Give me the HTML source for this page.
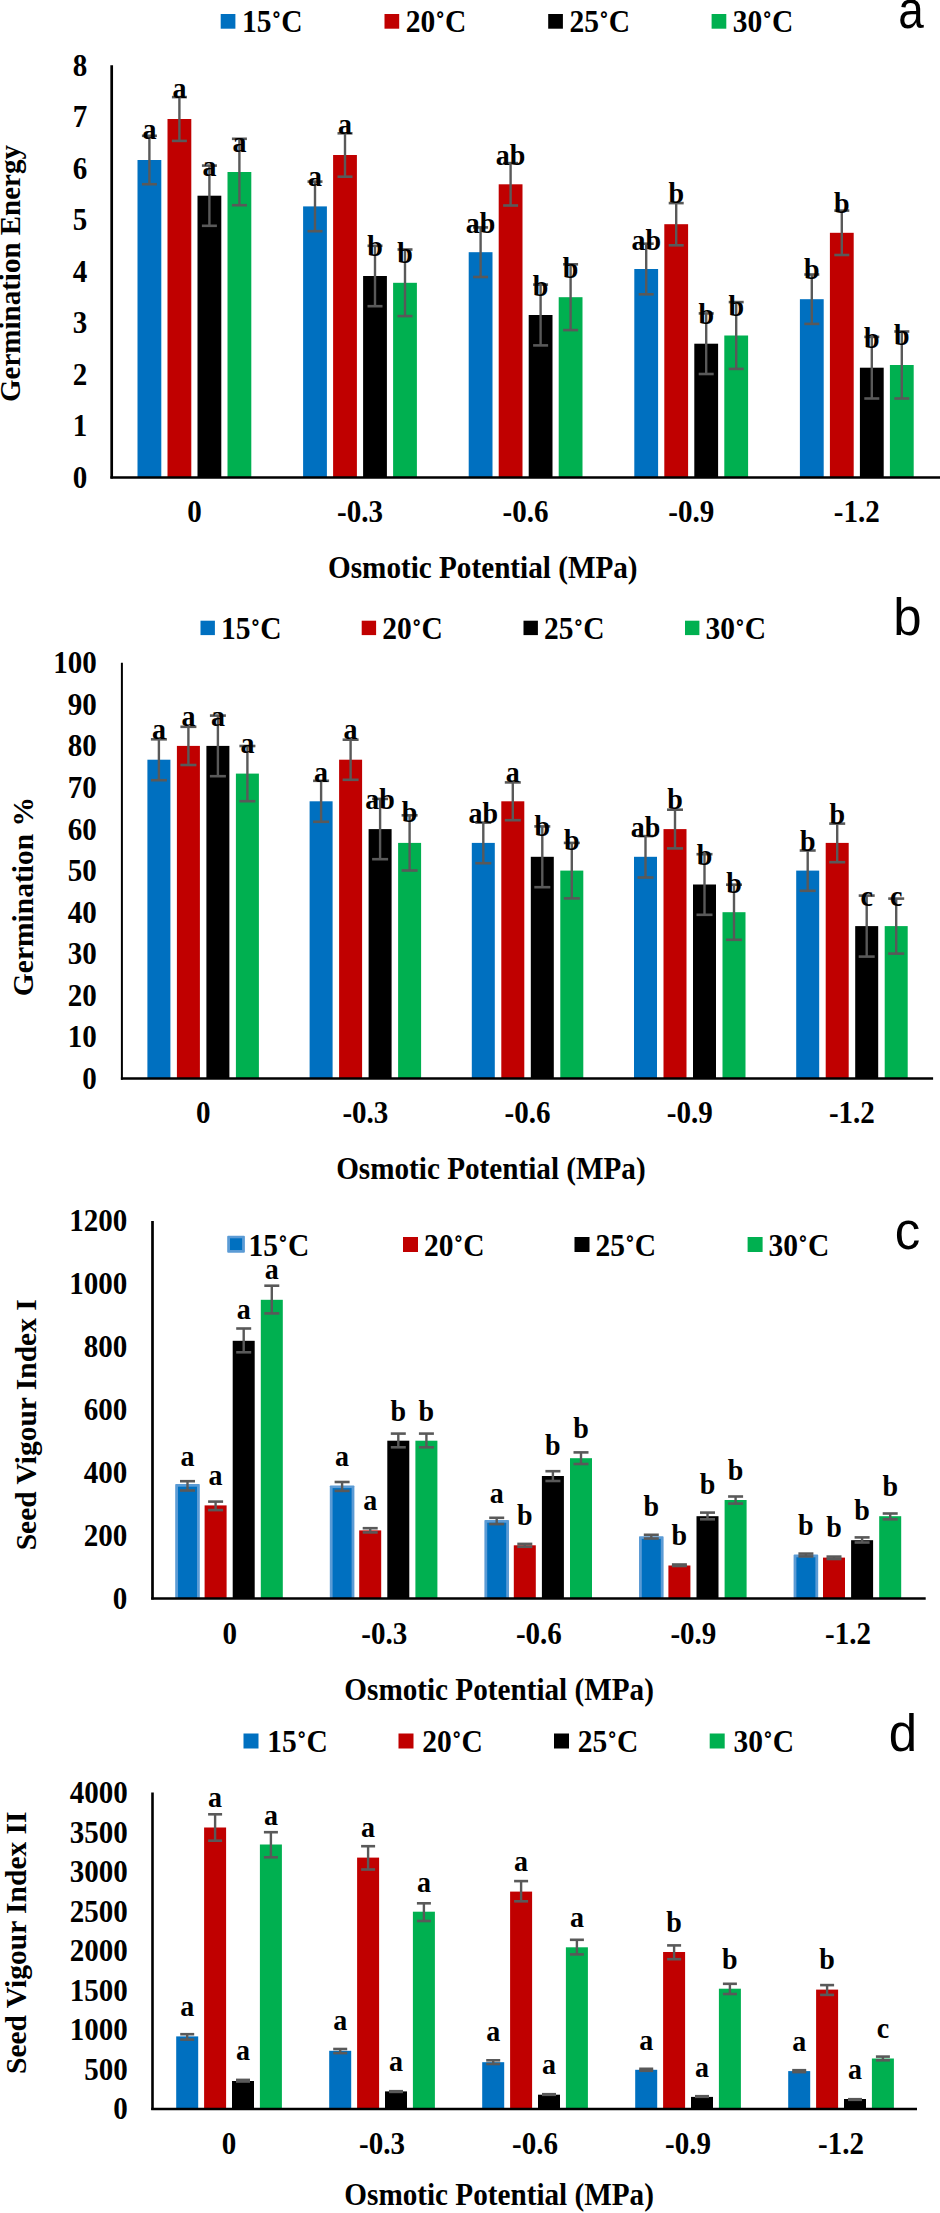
<!DOCTYPE html>
<html><head><meta charset="utf-8"><title>Chart</title>
<style>
html,body{margin:0;padding:0;background:#fff;}
body{width:940px;height:2213px;overflow:hidden;}
svg{display:block;}
text{font-family:"Liberation Serif",serif;font-weight:bold;fill:#000;}
text.pl{font-family:"Liberation Sans",sans-serif;font-weight:normal;}
</style></head><body>
<svg width="940" height="2213" viewBox="0 0 940 2213">
<rect width="940" height="2213" fill="#fff"/>
<!-- panel a -->
<rect x="137.5" y="160.0" width="23.8" height="317.4" fill="#0070C0"/>
<rect x="167.5" y="119.0" width="23.8" height="358.4" fill="#C00000"/>
<rect x="197.5" y="195.7" width="23.8" height="281.7" fill="#000000"/>
<rect x="227.5" y="172.0" width="23.8" height="305.4" fill="#00B050"/>
<rect x="303.1" y="206.4" width="23.8" height="271.0" fill="#0070C0"/>
<rect x="333.1" y="155.0" width="23.8" height="322.4" fill="#C00000"/>
<rect x="363.1" y="276.0" width="23.8" height="201.4" fill="#000000"/>
<rect x="393.1" y="282.8" width="23.8" height="194.6" fill="#00B050"/>
<rect x="468.7" y="252.2" width="23.8" height="225.2" fill="#0070C0"/>
<rect x="498.7" y="184.3" width="23.8" height="293.1" fill="#C00000"/>
<rect x="528.7" y="315.0" width="23.8" height="162.4" fill="#000000"/>
<rect x="558.7" y="297.2" width="23.8" height="180.2" fill="#00B050"/>
<rect x="634.3" y="269.0" width="23.8" height="208.4" fill="#0070C0"/>
<rect x="664.3" y="224.2" width="23.8" height="253.2" fill="#C00000"/>
<rect x="694.3" y="343.7" width="23.8" height="133.7" fill="#000000"/>
<rect x="724.3" y="335.5" width="23.8" height="141.9" fill="#00B050"/>
<rect x="799.9" y="299.2" width="23.8" height="178.2" fill="#0070C0"/>
<rect x="829.9" y="232.8" width="23.8" height="244.6" fill="#C00000"/>
<rect x="859.9" y="367.7" width="23.8" height="109.7" fill="#000000"/>
<rect x="889.9" y="365.0" width="23.8" height="112.4" fill="#00B050"/>
<line x1="149.4" y1="135.8" x2="149.4" y2="184.2" stroke="#595959" stroke-width="2.4"/>
<line x1="141.9" y1="135.8" x2="156.9" y2="135.8" stroke="#595959" stroke-width="2.6"/>
<line x1="141.9" y1="184.2" x2="156.9" y2="184.2" stroke="#595959" stroke-width="2.6"/>
<line x1="179.4" y1="97.1" x2="179.4" y2="140.9" stroke="#595959" stroke-width="2.4"/>
<line x1="171.9" y1="97.1" x2="186.9" y2="97.1" stroke="#595959" stroke-width="2.6"/>
<line x1="171.9" y1="140.9" x2="186.9" y2="140.9" stroke="#595959" stroke-width="2.6"/>
<line x1="209.4" y1="165.6" x2="209.4" y2="225.8" stroke="#595959" stroke-width="2.4"/>
<line x1="201.9" y1="165.6" x2="216.9" y2="165.6" stroke="#595959" stroke-width="2.6"/>
<line x1="201.9" y1="225.8" x2="216.9" y2="225.8" stroke="#595959" stroke-width="2.6"/>
<line x1="239.4" y1="138.8" x2="239.4" y2="205.2" stroke="#595959" stroke-width="2.4"/>
<line x1="231.9" y1="138.8" x2="246.9" y2="138.8" stroke="#595959" stroke-width="2.6"/>
<line x1="231.9" y1="205.2" x2="246.9" y2="205.2" stroke="#595959" stroke-width="2.6"/>
<line x1="315.0" y1="181.6" x2="315.0" y2="231.2" stroke="#595959" stroke-width="2.4"/>
<line x1="307.5" y1="181.6" x2="322.5" y2="181.6" stroke="#595959" stroke-width="2.6"/>
<line x1="307.5" y1="231.2" x2="322.5" y2="231.2" stroke="#595959" stroke-width="2.6"/>
<line x1="345.0" y1="133.3" x2="345.0" y2="176.7" stroke="#595959" stroke-width="2.4"/>
<line x1="337.5" y1="133.3" x2="352.5" y2="133.3" stroke="#595959" stroke-width="2.6"/>
<line x1="337.5" y1="176.7" x2="352.5" y2="176.7" stroke="#595959" stroke-width="2.6"/>
<line x1="375.0" y1="245.8" x2="375.0" y2="306.2" stroke="#595959" stroke-width="2.4"/>
<line x1="367.5" y1="245.8" x2="382.5" y2="245.8" stroke="#595959" stroke-width="2.6"/>
<line x1="367.5" y1="306.2" x2="382.5" y2="306.2" stroke="#595959" stroke-width="2.6"/>
<line x1="405.0" y1="249.5" x2="405.0" y2="316.1" stroke="#595959" stroke-width="2.4"/>
<line x1="397.5" y1="249.5" x2="412.5" y2="249.5" stroke="#595959" stroke-width="2.6"/>
<line x1="397.5" y1="316.1" x2="412.5" y2="316.1" stroke="#595959" stroke-width="2.6"/>
<line x1="480.6" y1="227.4" x2="480.6" y2="277.0" stroke="#595959" stroke-width="2.4"/>
<line x1="473.1" y1="227.4" x2="488.1" y2="227.4" stroke="#595959" stroke-width="2.6"/>
<line x1="473.1" y1="277.0" x2="488.1" y2="277.0" stroke="#595959" stroke-width="2.6"/>
<line x1="510.6" y1="163.1" x2="510.6" y2="205.5" stroke="#595959" stroke-width="2.4"/>
<line x1="503.1" y1="163.1" x2="518.1" y2="163.1" stroke="#595959" stroke-width="2.6"/>
<line x1="503.1" y1="205.5" x2="518.1" y2="205.5" stroke="#595959" stroke-width="2.6"/>
<line x1="540.6" y1="284.6" x2="540.6" y2="345.4" stroke="#595959" stroke-width="2.4"/>
<line x1="533.1" y1="284.6" x2="548.1" y2="284.6" stroke="#595959" stroke-width="2.6"/>
<line x1="533.1" y1="345.4" x2="548.1" y2="345.4" stroke="#595959" stroke-width="2.6"/>
<line x1="570.6" y1="264.3" x2="570.6" y2="330.1" stroke="#595959" stroke-width="2.4"/>
<line x1="563.1" y1="264.3" x2="578.1" y2="264.3" stroke="#595959" stroke-width="2.6"/>
<line x1="563.1" y1="330.1" x2="578.1" y2="330.1" stroke="#595959" stroke-width="2.6"/>
<line x1="646.2" y1="243.7" x2="646.2" y2="294.3" stroke="#595959" stroke-width="2.4"/>
<line x1="638.7" y1="243.7" x2="653.7" y2="243.7" stroke="#595959" stroke-width="2.6"/>
<line x1="638.7" y1="294.3" x2="653.7" y2="294.3" stroke="#595959" stroke-width="2.6"/>
<line x1="676.2" y1="203.1" x2="676.2" y2="245.3" stroke="#595959" stroke-width="2.4"/>
<line x1="668.7" y1="203.1" x2="683.7" y2="203.1" stroke="#595959" stroke-width="2.6"/>
<line x1="668.7" y1="245.3" x2="683.7" y2="245.3" stroke="#595959" stroke-width="2.6"/>
<line x1="706.2" y1="313.4" x2="706.2" y2="374.0" stroke="#595959" stroke-width="2.4"/>
<line x1="698.7" y1="313.4" x2="713.7" y2="313.4" stroke="#595959" stroke-width="2.6"/>
<line x1="698.7" y1="374.0" x2="713.7" y2="374.0" stroke="#595959" stroke-width="2.6"/>
<line x1="736.2" y1="302.1" x2="736.2" y2="368.9" stroke="#595959" stroke-width="2.4"/>
<line x1="728.7" y1="302.1" x2="743.7" y2="302.1" stroke="#595959" stroke-width="2.6"/>
<line x1="728.7" y1="368.9" x2="743.7" y2="368.9" stroke="#595959" stroke-width="2.6"/>
<line x1="811.8" y1="274.5" x2="811.8" y2="323.9" stroke="#595959" stroke-width="2.4"/>
<line x1="804.3" y1="274.5" x2="819.3" y2="274.5" stroke="#595959" stroke-width="2.6"/>
<line x1="804.3" y1="323.9" x2="819.3" y2="323.9" stroke="#595959" stroke-width="2.6"/>
<line x1="841.8" y1="210.6" x2="841.8" y2="255.0" stroke="#595959" stroke-width="2.4"/>
<line x1="834.3" y1="210.6" x2="849.3" y2="210.6" stroke="#595959" stroke-width="2.6"/>
<line x1="834.3" y1="255.0" x2="849.3" y2="255.0" stroke="#595959" stroke-width="2.6"/>
<line x1="871.8" y1="336.9" x2="871.8" y2="398.5" stroke="#595959" stroke-width="2.4"/>
<line x1="864.3" y1="336.9" x2="879.3" y2="336.9" stroke="#595959" stroke-width="2.6"/>
<line x1="864.3" y1="398.5" x2="879.3" y2="398.5" stroke="#595959" stroke-width="2.6"/>
<line x1="901.8" y1="331.5" x2="901.8" y2="398.5" stroke="#595959" stroke-width="2.4"/>
<line x1="894.3" y1="331.5" x2="909.3" y2="331.5" stroke="#595959" stroke-width="2.6"/>
<line x1="894.3" y1="398.5" x2="909.3" y2="398.5" stroke="#595959" stroke-width="2.6"/>
<text transform="translate(149.4,139.4) scale(0.95,1.03)" text-anchor="middle" font-size="29.5">a</text>
<text transform="translate(179.4,98.3) scale(0.95,1.03)" text-anchor="middle" font-size="29.5">a</text>
<text transform="translate(209.4,176.0) scale(0.95,1.03)" text-anchor="middle" font-size="29.5">a</text>
<text transform="translate(239.4,151.9) scale(0.95,1.03)" text-anchor="middle" font-size="29.5">a</text>
<text transform="translate(315.0,186.3) scale(0.95,1.03)" text-anchor="middle" font-size="29.5">a</text>
<text transform="translate(345.0,134.0) scale(0.95,1.03)" text-anchor="middle" font-size="29.5">a</text>
<text transform="translate(375.0,255.5) scale(0.95,1.03)" text-anchor="middle" font-size="29.5">b</text>
<text transform="translate(405.0,263.1) scale(0.95,1.03)" text-anchor="middle" font-size="29.5">b</text>
<text transform="translate(480.6,232.8) scale(0.95,1.03)" text-anchor="middle" font-size="29.5">ab</text>
<text transform="translate(510.6,164.9) scale(0.95,1.03)" text-anchor="middle" font-size="29.5">ab</text>
<text transform="translate(540.6,296.2) scale(0.95,1.03)" text-anchor="middle" font-size="29.5">b</text>
<text transform="translate(570.6,277.8) scale(0.95,1.03)" text-anchor="middle" font-size="29.5">b</text>
<text transform="translate(646.2,250.2) scale(0.95,1.03)" text-anchor="middle" font-size="29.5">ab</text>
<text transform="translate(676.2,203.2) scale(0.95,1.03)" text-anchor="middle" font-size="29.5">b</text>
<text transform="translate(706.2,324.3) scale(0.95,1.03)" text-anchor="middle" font-size="29.5">b</text>
<text transform="translate(736.2,316.1) scale(0.95,1.03)" text-anchor="middle" font-size="29.5">b</text>
<text transform="translate(811.8,278.8) scale(0.95,1.03)" text-anchor="middle" font-size="29.5">b</text>
<text transform="translate(841.8,213.4) scale(0.95,1.03)" text-anchor="middle" font-size="29.5">b</text>
<text transform="translate(871.8,347.7) scale(0.95,1.03)" text-anchor="middle" font-size="29.5">b</text>
<text transform="translate(901.8,345.2) scale(0.95,1.03)" text-anchor="middle" font-size="29.5">b</text>
<line x1="111.7" y1="65.2" x2="111.7" y2="478.6" stroke="#000" stroke-width="2.7"/>
<line x1="110.4" y1="477.4" x2="940.0" y2="477.4" stroke="#000" stroke-width="2.5"/>
<text transform="translate(87.3,487.8) scale(0.985,1.07)" text-anchor="end" font-size="29.5">0</text>
<text transform="translate(87.3,436.3) scale(0.985,1.07)" text-anchor="end" font-size="29.5">1</text>
<text transform="translate(87.3,384.7) scale(0.985,1.07)" text-anchor="end" font-size="29.5">2</text>
<text transform="translate(87.3,333.2) scale(0.985,1.07)" text-anchor="end" font-size="29.5">3</text>
<text transform="translate(87.3,281.7) scale(0.985,1.07)" text-anchor="end" font-size="29.5">4</text>
<text transform="translate(87.3,230.2) scale(0.985,1.07)" text-anchor="end" font-size="29.5">5</text>
<text transform="translate(87.3,178.7) scale(0.985,1.07)" text-anchor="end" font-size="29.5">6</text>
<text transform="translate(87.3,127.1) scale(0.985,1.07)" text-anchor="end" font-size="29.5">7</text>
<text transform="translate(87.3,75.6) scale(0.985,1.07)" text-anchor="end" font-size="29.5">8</text>
<text transform="translate(194.4,521.5) scale(0.985,1.07)" text-anchor="middle" font-size="29.5">0</text>
<text transform="translate(360.0,521.5) scale(0.985,1.07)" text-anchor="middle" font-size="29.5">-0.3</text>
<text transform="translate(525.6,521.5) scale(0.985,1.07)" text-anchor="middle" font-size="29.5">-0.6</text>
<text transform="translate(691.2,521.5) scale(0.985,1.07)" text-anchor="middle" font-size="29.5">-0.9</text>
<text transform="translate(856.8,521.5) scale(0.985,1.07)" text-anchor="middle" font-size="29.5">-1.2</text>
<text transform="translate(482.8,578.3) scale(1,1.07)" text-anchor="middle" font-size="29.2">Osmotic Potential (MPa)</text>
<text transform="translate(20.4,273.5) rotate(-90)" x="0" y="0" text-anchor="middle" font-size="29">Germination Energy</text>
<rect x="220.7" y="14.0" width="14.7" height="14.7" fill="#0070C0"/>
<text transform="translate(241.9,31.9) scale(1,1.04)" text-anchor="start" font-size="29.5">15<tspan dy="2.3">˚</tspan><tspan dy="-2.3">C</tspan></text>
<rect x="384.5" y="14.0" width="14.7" height="14.7" fill="#C00000"/>
<text transform="translate(405.7,31.9) scale(1,1.04)" text-anchor="start" font-size="29.5">20<tspan dy="2.3">˚</tspan><tspan dy="-2.3">C</tspan></text>
<rect x="548.2" y="14.0" width="14.7" height="14.7" fill="#000000"/>
<text transform="translate(569.4,31.9) scale(1,1.04)" text-anchor="start" font-size="29.5">25<tspan dy="2.3">˚</tspan><tspan dy="-2.3">C</tspan></text>
<rect x="711.6" y="14.0" width="14.7" height="14.7" fill="#00B050"/>
<text transform="translate(732.8,31.9) scale(1,1.04)" text-anchor="start" font-size="29.5">30<tspan dy="2.3">˚</tspan><tspan dy="-2.3">C</tspan></text>
<text transform="translate(910.9,27.5) scale(0.9,1)" x="0" y="0" text-anchor="middle" class="pl" font-size="51">a</text>
<!-- panel b -->
<rect x="147.4" y="759.7" width="23.0" height="318.9" fill="#0070C0"/>
<rect x="176.9" y="745.9" width="23.0" height="332.7" fill="#C00000"/>
<rect x="206.4" y="745.9" width="23.0" height="332.7" fill="#000000"/>
<rect x="235.9" y="773.6" width="23.0" height="305.0" fill="#00B050"/>
<rect x="309.6" y="801.3" width="23.0" height="277.3" fill="#0070C0"/>
<rect x="339.1" y="759.7" width="23.0" height="318.9" fill="#C00000"/>
<rect x="368.6" y="829.1" width="23.0" height="249.5" fill="#000000"/>
<rect x="398.1" y="842.9" width="23.0" height="235.7" fill="#00B050"/>
<rect x="471.8" y="842.9" width="23.0" height="235.7" fill="#0070C0"/>
<rect x="501.3" y="801.3" width="23.0" height="277.3" fill="#C00000"/>
<rect x="530.8" y="856.8" width="23.0" height="221.8" fill="#000000"/>
<rect x="560.3" y="870.6" width="23.0" height="207.9" fill="#00B050"/>
<rect x="634.0" y="856.8" width="23.0" height="221.8" fill="#0070C0"/>
<rect x="663.5" y="829.1" width="23.0" height="249.5" fill="#C00000"/>
<rect x="693.0" y="884.5" width="23.0" height="194.1" fill="#000000"/>
<rect x="722.5" y="912.2" width="23.0" height="166.4" fill="#00B050"/>
<rect x="796.2" y="870.6" width="23.0" height="207.9" fill="#0070C0"/>
<rect x="825.7" y="842.9" width="23.0" height="235.7" fill="#C00000"/>
<rect x="855.2" y="926.1" width="23.0" height="152.5" fill="#000000"/>
<rect x="884.7" y="926.1" width="23.0" height="152.5" fill="#00B050"/>
<line x1="158.9" y1="739.3" x2="158.9" y2="780.2" stroke="#595959" stroke-width="2.4"/>
<line x1="150.9" y1="739.3" x2="166.9" y2="739.3" stroke="#595959" stroke-width="2.6"/>
<line x1="150.9" y1="780.2" x2="166.9" y2="780.2" stroke="#595959" stroke-width="2.6"/>
<line x1="188.4" y1="726.8" x2="188.4" y2="765.0" stroke="#595959" stroke-width="2.4"/>
<line x1="180.4" y1="726.8" x2="196.4" y2="726.8" stroke="#595959" stroke-width="2.6"/>
<line x1="180.4" y1="765.0" x2="196.4" y2="765.0" stroke="#595959" stroke-width="2.6"/>
<line x1="217.9" y1="715.6" x2="217.9" y2="776.2" stroke="#595959" stroke-width="2.4"/>
<line x1="209.9" y1="715.6" x2="225.9" y2="715.6" stroke="#595959" stroke-width="2.6"/>
<line x1="209.9" y1="776.2" x2="225.9" y2="776.2" stroke="#595959" stroke-width="2.6"/>
<line x1="247.4" y1="746.0" x2="247.4" y2="801.2" stroke="#595959" stroke-width="2.4"/>
<line x1="239.4" y1="746.0" x2="255.4" y2="746.0" stroke="#595959" stroke-width="2.6"/>
<line x1="239.4" y1="801.2" x2="255.4" y2="801.2" stroke="#595959" stroke-width="2.6"/>
<line x1="321.1" y1="780.8" x2="321.1" y2="821.8" stroke="#595959" stroke-width="2.4"/>
<line x1="313.1" y1="780.8" x2="329.1" y2="780.8" stroke="#595959" stroke-width="2.6"/>
<line x1="313.1" y1="821.8" x2="329.1" y2="821.8" stroke="#595959" stroke-width="2.6"/>
<line x1="350.6" y1="739.7" x2="350.6" y2="779.8" stroke="#595959" stroke-width="2.4"/>
<line x1="342.6" y1="739.7" x2="358.6" y2="739.7" stroke="#595959" stroke-width="2.6"/>
<line x1="342.6" y1="779.8" x2="358.6" y2="779.8" stroke="#595959" stroke-width="2.6"/>
<line x1="380.1" y1="798.9" x2="380.1" y2="859.2" stroke="#595959" stroke-width="2.4"/>
<line x1="372.1" y1="798.9" x2="388.1" y2="798.9" stroke="#595959" stroke-width="2.6"/>
<line x1="372.1" y1="859.2" x2="388.1" y2="859.2" stroke="#595959" stroke-width="2.6"/>
<line x1="409.6" y1="815.3" x2="409.6" y2="870.5" stroke="#595959" stroke-width="2.4"/>
<line x1="401.6" y1="815.3" x2="417.6" y2="815.3" stroke="#595959" stroke-width="2.6"/>
<line x1="401.6" y1="870.5" x2="417.6" y2="870.5" stroke="#595959" stroke-width="2.6"/>
<line x1="483.3" y1="822.6" x2="483.3" y2="863.2" stroke="#595959" stroke-width="2.4"/>
<line x1="475.3" y1="822.6" x2="491.3" y2="822.6" stroke="#595959" stroke-width="2.6"/>
<line x1="475.3" y1="863.2" x2="491.3" y2="863.2" stroke="#595959" stroke-width="2.6"/>
<line x1="512.8" y1="782.4" x2="512.8" y2="820.2" stroke="#595959" stroke-width="2.4"/>
<line x1="504.8" y1="782.4" x2="520.8" y2="782.4" stroke="#595959" stroke-width="2.6"/>
<line x1="504.8" y1="820.2" x2="520.8" y2="820.2" stroke="#595959" stroke-width="2.6"/>
<line x1="542.3" y1="826.4" x2="542.3" y2="887.2" stroke="#595959" stroke-width="2.4"/>
<line x1="534.3" y1="826.4" x2="550.3" y2="826.4" stroke="#595959" stroke-width="2.6"/>
<line x1="534.3" y1="887.2" x2="550.3" y2="887.2" stroke="#595959" stroke-width="2.6"/>
<line x1="571.8" y1="842.9" x2="571.8" y2="898.4" stroke="#595959" stroke-width="2.4"/>
<line x1="563.8" y1="842.9" x2="579.8" y2="842.9" stroke="#595959" stroke-width="2.6"/>
<line x1="563.8" y1="898.4" x2="579.8" y2="898.4" stroke="#595959" stroke-width="2.6"/>
<line x1="645.5" y1="836.1" x2="645.5" y2="877.5" stroke="#595959" stroke-width="2.4"/>
<line x1="637.5" y1="836.1" x2="653.5" y2="836.1" stroke="#595959" stroke-width="2.6"/>
<line x1="637.5" y1="877.5" x2="653.5" y2="877.5" stroke="#595959" stroke-width="2.6"/>
<line x1="675.0" y1="809.7" x2="675.0" y2="848.4" stroke="#595959" stroke-width="2.4"/>
<line x1="667.0" y1="809.7" x2="683.0" y2="809.7" stroke="#595959" stroke-width="2.6"/>
<line x1="667.0" y1="848.4" x2="683.0" y2="848.4" stroke="#595959" stroke-width="2.6"/>
<line x1="704.5" y1="854.2" x2="704.5" y2="914.8" stroke="#595959" stroke-width="2.4"/>
<line x1="696.5" y1="854.2" x2="712.5" y2="854.2" stroke="#595959" stroke-width="2.6"/>
<line x1="696.5" y1="914.8" x2="712.5" y2="914.8" stroke="#595959" stroke-width="2.6"/>
<line x1="734.0" y1="884.7" x2="734.0" y2="939.8" stroke="#595959" stroke-width="2.4"/>
<line x1="726.0" y1="884.7" x2="742.0" y2="884.7" stroke="#595959" stroke-width="2.6"/>
<line x1="726.0" y1="939.8" x2="742.0" y2="939.8" stroke="#595959" stroke-width="2.6"/>
<line x1="807.7" y1="850.5" x2="807.7" y2="890.8" stroke="#595959" stroke-width="2.4"/>
<line x1="799.7" y1="850.5" x2="815.7" y2="850.5" stroke="#595959" stroke-width="2.6"/>
<line x1="799.7" y1="890.8" x2="815.7" y2="890.8" stroke="#595959" stroke-width="2.6"/>
<line x1="837.2" y1="823.6" x2="837.2" y2="862.2" stroke="#595959" stroke-width="2.4"/>
<line x1="829.2" y1="823.6" x2="845.2" y2="823.6" stroke="#595959" stroke-width="2.6"/>
<line x1="829.2" y1="862.2" x2="845.2" y2="862.2" stroke="#595959" stroke-width="2.6"/>
<line x1="866.7" y1="895.6" x2="866.7" y2="956.6" stroke="#595959" stroke-width="2.4"/>
<line x1="858.7" y1="895.6" x2="874.7" y2="895.6" stroke="#595959" stroke-width="2.6"/>
<line x1="858.7" y1="956.6" x2="874.7" y2="956.6" stroke="#595959" stroke-width="2.6"/>
<line x1="896.2" y1="898.6" x2="896.2" y2="953.6" stroke="#595959" stroke-width="2.4"/>
<line x1="888.2" y1="898.6" x2="904.2" y2="898.6" stroke="#595959" stroke-width="2.6"/>
<line x1="888.2" y1="953.6" x2="904.2" y2="953.6" stroke="#595959" stroke-width="2.6"/>
<text transform="translate(158.9,739.4) scale(0.95,1.03)" text-anchor="middle" font-size="29.5">a</text>
<text transform="translate(188.4,726.0) scale(0.95,1.03)" text-anchor="middle" font-size="29.5">a</text>
<text transform="translate(217.9,726.0) scale(0.95,1.03)" text-anchor="middle" font-size="29.5">a</text>
<text transform="translate(247.4,752.8) scale(0.95,1.03)" text-anchor="middle" font-size="29.5">a</text>
<text transform="translate(321.1,781.8) scale(0.95,1.03)" text-anchor="middle" font-size="29.5">a</text>
<text transform="translate(350.6,739.4) scale(0.95,1.03)" text-anchor="middle" font-size="29.5">a</text>
<text transform="translate(380.1,808.6) scale(0.95,1.03)" text-anchor="middle" font-size="29.5">ab</text>
<text transform="translate(409.6,822.0) scale(0.95,1.03)" text-anchor="middle" font-size="29.5">b</text>
<text transform="translate(483.3,822.6) scale(0.95,1.03)" text-anchor="middle" font-size="29.5">ab</text>
<text transform="translate(512.8,781.8) scale(0.95,1.03)" text-anchor="middle" font-size="29.5">a</text>
<text transform="translate(542.3,836.4) scale(0.95,1.03)" text-anchor="middle" font-size="29.5">b</text>
<text transform="translate(571.8,850.2) scale(0.95,1.03)" text-anchor="middle" font-size="29.5">b</text>
<text transform="translate(645.5,837.0) scale(0.95,1.03)" text-anchor="middle" font-size="29.5">ab</text>
<text transform="translate(675.0,808.8) scale(0.95,1.03)" text-anchor="middle" font-size="29.5">b</text>
<text transform="translate(704.5,864.5) scale(0.95,1.03)" text-anchor="middle" font-size="29.5">b</text>
<text transform="translate(734.0,892.6) scale(0.95,1.03)" text-anchor="middle" font-size="29.5">b</text>
<text transform="translate(807.7,850.7) scale(0.95,1.03)" text-anchor="middle" font-size="29.5">b</text>
<text transform="translate(837.2,823.6) scale(0.95,1.03)" text-anchor="middle" font-size="29.5">b</text>
<text transform="translate(866.7,906.4) scale(0.95,1.03)" text-anchor="middle" font-size="29.5">c</text>
<text transform="translate(896.2,906.4) scale(0.95,1.03)" text-anchor="middle" font-size="29.5">c</text>
<line x1="121.9" y1="662.7" x2="121.9" y2="1079.8" stroke="#000" stroke-width="2.0"/>
<line x1="120.9" y1="1078.6" x2="933.1" y2="1078.6" stroke="#000" stroke-width="2.5"/>
<text transform="translate(96.8,1089.0) scale(0.985,1.07)" text-anchor="end" font-size="29.5">0</text>
<text transform="translate(96.8,1047.4) scale(0.985,1.07)" text-anchor="end" font-size="29.5">10</text>
<text transform="translate(96.8,1005.8) scale(0.985,1.07)" text-anchor="end" font-size="29.5">20</text>
<text transform="translate(96.8,964.2) scale(0.985,1.07)" text-anchor="end" font-size="29.5">30</text>
<text transform="translate(96.8,922.6) scale(0.985,1.07)" text-anchor="end" font-size="29.5">40</text>
<text transform="translate(96.8,881.0) scale(0.985,1.07)" text-anchor="end" font-size="29.5">50</text>
<text transform="translate(96.8,839.5) scale(0.985,1.07)" text-anchor="end" font-size="29.5">60</text>
<text transform="translate(96.8,797.9) scale(0.985,1.07)" text-anchor="end" font-size="29.5">70</text>
<text transform="translate(96.8,756.3) scale(0.985,1.07)" text-anchor="end" font-size="29.5">80</text>
<text transform="translate(96.8,714.7) scale(0.985,1.07)" text-anchor="end" font-size="29.5">90</text>
<text transform="translate(96.8,673.1) scale(0.985,1.07)" text-anchor="end" font-size="29.5">100</text>
<text transform="translate(203.2,1122.5) scale(0.985,1.07)" text-anchor="middle" font-size="29.5">0</text>
<text transform="translate(365.4,1122.5) scale(0.985,1.07)" text-anchor="middle" font-size="29.5">-0.3</text>
<text transform="translate(527.5,1122.5) scale(0.985,1.07)" text-anchor="middle" font-size="29.5">-0.6</text>
<text transform="translate(689.8,1122.5) scale(0.985,1.07)" text-anchor="middle" font-size="29.5">-0.9</text>
<text transform="translate(851.9,1122.5) scale(0.985,1.07)" text-anchor="middle" font-size="29.5">-1.2</text>
<text transform="translate(490.9,1178.6) scale(1,1.07)" text-anchor="middle" font-size="29.2">Osmotic Potential (MPa)</text>
<text transform="translate(32.9,896.6) rotate(-90)" x="0" y="0" text-anchor="middle" font-size="29.5">Germination %</text>
<rect x="200.5" y="620.7" width="14.4" height="14.4" fill="#0070C0"/>
<text transform="translate(221.0,639.3) scale(1,1.04)" text-anchor="start" font-size="29.5">15<tspan dy="2.3">˚</tspan><tspan dy="-2.3">C</tspan></text>
<rect x="361.7" y="620.7" width="14.4" height="14.4" fill="#C00000"/>
<text transform="translate(382.2,639.3) scale(1,1.04)" text-anchor="start" font-size="29.5">20<tspan dy="2.3">˚</tspan><tspan dy="-2.3">C</tspan></text>
<rect x="523.5" y="620.7" width="14.4" height="14.4" fill="#000000"/>
<text transform="translate(544.0,639.3) scale(1,1.04)" text-anchor="start" font-size="29.5">25<tspan dy="2.3">˚</tspan><tspan dy="-2.3">C</tspan></text>
<rect x="685.0" y="620.7" width="14.4" height="14.4" fill="#00B050"/>
<text transform="translate(705.5,639.3) scale(1,1.04)" text-anchor="start" font-size="29.5">30<tspan dy="2.3">˚</tspan><tspan dy="-2.3">C</tspan></text>
<text transform="translate(907.4,635.0) scale(1,1)" x="0" y="0" text-anchor="middle" class="pl" font-size="51">b</text>
<!-- panel c -->
<rect x="175.2" y="1484.0" width="24.6" height="114.4" fill="#5B9BD5" rx="0.8"/>
<rect x="178.0" y="1486.7" width="19.0" height="111.7" fill="#0070C0"/>
<rect x="204.6" y="1505.4" width="22.0" height="93.0" fill="#C00000"/>
<rect x="232.7" y="1340.8" width="22.0" height="257.6" fill="#000000"/>
<rect x="260.8" y="1299.8" width="22.0" height="298.6" fill="#00B050"/>
<rect x="329.8" y="1485.4" width="24.6" height="113.0" fill="#5B9BD5" rx="0.8"/>
<rect x="332.6" y="1488.1" width="19.0" height="110.3" fill="#0070C0"/>
<rect x="359.2" y="1530.4" width="22.0" height="68.0" fill="#C00000"/>
<rect x="387.3" y="1440.7" width="22.0" height="157.7" fill="#000000"/>
<rect x="415.4" y="1440.7" width="22.0" height="157.7" fill="#00B050"/>
<rect x="484.4" y="1520.0" width="24.6" height="78.4" fill="#5B9BD5" rx="0.8"/>
<rect x="487.2" y="1522.7" width="19.0" height="75.7" fill="#0070C0"/>
<rect x="513.8" y="1545.3" width="22.0" height="53.1" fill="#C00000"/>
<rect x="541.9" y="1476.0" width="22.0" height="122.4" fill="#000000"/>
<rect x="570.0" y="1458.2" width="22.0" height="140.2" fill="#00B050"/>
<rect x="639.0" y="1536.2" width="24.6" height="62.2" fill="#5B9BD5" rx="0.8"/>
<rect x="641.8" y="1538.9" width="19.0" height="59.5" fill="#0070C0"/>
<rect x="668.4" y="1565.5" width="22.0" height="32.9" fill="#C00000"/>
<rect x="696.5" y="1516.2" width="22.0" height="82.2" fill="#000000"/>
<rect x="724.6" y="1500.0" width="22.0" height="98.4" fill="#00B050"/>
<rect x="793.6" y="1554.6" width="24.6" height="43.8" fill="#5B9BD5" rx="0.8"/>
<rect x="796.4" y="1557.3" width="19.0" height="41.1" fill="#0070C0"/>
<rect x="823.0" y="1557.6" width="22.0" height="40.8" fill="#C00000"/>
<rect x="851.1" y="1540.2" width="22.0" height="58.2" fill="#000000"/>
<rect x="879.2" y="1516.2" width="22.0" height="82.2" fill="#00B050"/>
<line x1="187.5" y1="1481.2" x2="187.5" y2="1490.5" stroke="#595959" stroke-width="2.4"/>
<line x1="180.0" y1="1481.2" x2="195.0" y2="1481.2" stroke="#595959" stroke-width="2.6"/>
<line x1="180.0" y1="1490.5" x2="195.0" y2="1490.5" stroke="#595959" stroke-width="2.6"/>
<line x1="215.6" y1="1501.6" x2="215.6" y2="1510.1" stroke="#595959" stroke-width="2.4"/>
<line x1="208.1" y1="1501.6" x2="223.1" y2="1501.6" stroke="#595959" stroke-width="2.6"/>
<line x1="208.1" y1="1510.1" x2="223.1" y2="1510.1" stroke="#595959" stroke-width="2.6"/>
<line x1="243.7" y1="1328.5" x2="243.7" y2="1352.3" stroke="#595959" stroke-width="2.4"/>
<line x1="236.2" y1="1328.5" x2="251.2" y2="1328.5" stroke="#595959" stroke-width="2.6"/>
<line x1="236.2" y1="1352.3" x2="251.2" y2="1352.3" stroke="#595959" stroke-width="2.6"/>
<line x1="271.8" y1="1285.7" x2="271.8" y2="1313.4" stroke="#595959" stroke-width="2.4"/>
<line x1="264.3" y1="1285.7" x2="279.3" y2="1285.7" stroke="#595959" stroke-width="2.6"/>
<line x1="264.3" y1="1313.4" x2="279.3" y2="1313.4" stroke="#595959" stroke-width="2.6"/>
<line x1="342.1" y1="1482.0" x2="342.1" y2="1490.9" stroke="#595959" stroke-width="2.4"/>
<line x1="334.6" y1="1482.0" x2="349.6" y2="1482.0" stroke="#595959" stroke-width="2.6"/>
<line x1="334.6" y1="1490.9" x2="349.6" y2="1490.9" stroke="#595959" stroke-width="2.6"/>
<line x1="370.2" y1="1528.2" x2="370.2" y2="1532.4" stroke="#595959" stroke-width="2.4"/>
<line x1="362.7" y1="1528.2" x2="377.7" y2="1528.2" stroke="#595959" stroke-width="2.6"/>
<line x1="362.7" y1="1532.4" x2="377.7" y2="1532.4" stroke="#595959" stroke-width="2.6"/>
<line x1="398.3" y1="1433.6" x2="398.3" y2="1447.3" stroke="#595959" stroke-width="2.4"/>
<line x1="390.8" y1="1433.6" x2="405.8" y2="1433.6" stroke="#595959" stroke-width="2.6"/>
<line x1="390.8" y1="1447.3" x2="405.8" y2="1447.3" stroke="#595959" stroke-width="2.6"/>
<line x1="426.4" y1="1433.6" x2="426.4" y2="1447.3" stroke="#595959" stroke-width="2.4"/>
<line x1="418.9" y1="1433.6" x2="433.9" y2="1433.6" stroke="#595959" stroke-width="2.6"/>
<line x1="418.9" y1="1447.3" x2="433.9" y2="1447.3" stroke="#595959" stroke-width="2.6"/>
<line x1="496.7" y1="1517.8" x2="496.7" y2="1524.1" stroke="#595959" stroke-width="2.4"/>
<line x1="489.2" y1="1517.8" x2="504.2" y2="1517.8" stroke="#595959" stroke-width="2.6"/>
<line x1="489.2" y1="1524.1" x2="504.2" y2="1524.1" stroke="#595959" stroke-width="2.6"/>
<line x1="524.8" y1="1543.9" x2="524.8" y2="1546.8" stroke="#595959" stroke-width="2.4"/>
<line x1="517.3" y1="1543.9" x2="532.3" y2="1543.9" stroke="#595959" stroke-width="2.6"/>
<line x1="517.3" y1="1546.8" x2="532.3" y2="1546.8" stroke="#595959" stroke-width="2.6"/>
<line x1="552.9" y1="1471.2" x2="552.9" y2="1481.0" stroke="#595959" stroke-width="2.4"/>
<line x1="545.4" y1="1471.2" x2="560.4" y2="1471.2" stroke="#595959" stroke-width="2.6"/>
<line x1="545.4" y1="1481.0" x2="560.4" y2="1481.0" stroke="#595959" stroke-width="2.6"/>
<line x1="581.0" y1="1452.4" x2="581.0" y2="1464.0" stroke="#595959" stroke-width="2.4"/>
<line x1="573.5" y1="1452.4" x2="588.5" y2="1452.4" stroke="#595959" stroke-width="2.6"/>
<line x1="573.5" y1="1464.0" x2="588.5" y2="1464.0" stroke="#595959" stroke-width="2.6"/>
<line x1="651.3" y1="1534.8" x2="651.3" y2="1538.5" stroke="#595959" stroke-width="2.4"/>
<line x1="643.8" y1="1534.8" x2="658.8" y2="1534.8" stroke="#595959" stroke-width="2.6"/>
<line x1="643.8" y1="1538.5" x2="658.8" y2="1538.5" stroke="#595959" stroke-width="2.6"/>
<line x1="679.4" y1="1564.5" x2="679.4" y2="1566.0" stroke="#595959" stroke-width="2.4"/>
<line x1="671.9" y1="1564.5" x2="686.9" y2="1564.5" stroke="#595959" stroke-width="2.6"/>
<line x1="671.9" y1="1566.0" x2="686.9" y2="1566.0" stroke="#595959" stroke-width="2.6"/>
<line x1="707.5" y1="1512.6" x2="707.5" y2="1519.3" stroke="#595959" stroke-width="2.4"/>
<line x1="700.0" y1="1512.6" x2="715.0" y2="1512.6" stroke="#595959" stroke-width="2.6"/>
<line x1="700.0" y1="1519.3" x2="715.0" y2="1519.3" stroke="#595959" stroke-width="2.6"/>
<line x1="735.6" y1="1496.5" x2="735.6" y2="1503.6" stroke="#595959" stroke-width="2.4"/>
<line x1="728.1" y1="1496.5" x2="743.1" y2="1496.5" stroke="#595959" stroke-width="2.6"/>
<line x1="728.1" y1="1503.6" x2="743.1" y2="1503.6" stroke="#595959" stroke-width="2.6"/>
<line x1="805.9" y1="1553.6" x2="805.9" y2="1556.4" stroke="#595959" stroke-width="2.4"/>
<line x1="798.4" y1="1553.6" x2="813.4" y2="1553.6" stroke="#595959" stroke-width="2.6"/>
<line x1="798.4" y1="1556.4" x2="813.4" y2="1556.4" stroke="#595959" stroke-width="2.6"/>
<line x1="834.0" y1="1556.6" x2="834.0" y2="1559.0" stroke="#595959" stroke-width="2.4"/>
<line x1="826.5" y1="1556.6" x2="841.5" y2="1556.6" stroke="#595959" stroke-width="2.6"/>
<line x1="826.5" y1="1559.0" x2="841.5" y2="1559.0" stroke="#595959" stroke-width="2.6"/>
<line x1="862.1" y1="1537.4" x2="862.1" y2="1542.5" stroke="#595959" stroke-width="2.4"/>
<line x1="854.6" y1="1537.4" x2="869.6" y2="1537.4" stroke="#595959" stroke-width="2.6"/>
<line x1="854.6" y1="1542.5" x2="869.6" y2="1542.5" stroke="#595959" stroke-width="2.6"/>
<line x1="890.2" y1="1513.5" x2="890.2" y2="1519.3" stroke="#595959" stroke-width="2.4"/>
<line x1="882.7" y1="1513.5" x2="897.7" y2="1513.5" stroke="#595959" stroke-width="2.6"/>
<line x1="882.7" y1="1519.3" x2="897.7" y2="1519.3" stroke="#595959" stroke-width="2.6"/>
<text transform="translate(187.5,1465.5) scale(0.95,1.03)" text-anchor="middle" font-size="29.5">a</text>
<text transform="translate(215.6,1484.7) scale(0.95,1.03)" text-anchor="middle" font-size="29.5">a</text>
<text transform="translate(243.7,1319.4) scale(0.95,1.03)" text-anchor="middle" font-size="29.5">a</text>
<text transform="translate(271.8,1278.9) scale(0.95,1.03)" text-anchor="middle" font-size="29.5">a</text>
<text transform="translate(342.1,1465.5) scale(0.95,1.03)" text-anchor="middle" font-size="29.5">a</text>
<text transform="translate(370.2,1509.6) scale(0.95,1.03)" text-anchor="middle" font-size="29.5">a</text>
<text transform="translate(398.3,1420.6) scale(0.95,1.03)" text-anchor="middle" font-size="29.5">b</text>
<text transform="translate(426.4,1420.6) scale(0.95,1.03)" text-anchor="middle" font-size="29.5">b</text>
<text transform="translate(496.7,1502.6) scale(0.95,1.03)" text-anchor="middle" font-size="29.5">a</text>
<text transform="translate(524.8,1525.3) scale(0.95,1.03)" text-anchor="middle" font-size="29.5">b</text>
<text transform="translate(552.9,1455.0) scale(0.95,1.03)" text-anchor="middle" font-size="29.5">b</text>
<text transform="translate(581.0,1437.7) scale(0.95,1.03)" text-anchor="middle" font-size="29.5">b</text>
<text transform="translate(651.3,1516.2) scale(0.95,1.03)" text-anchor="middle" font-size="29.5">b</text>
<text transform="translate(679.4,1544.5) scale(0.95,1.03)" text-anchor="middle" font-size="29.5">b</text>
<text transform="translate(707.5,1494.4) scale(0.95,1.03)" text-anchor="middle" font-size="29.5">b</text>
<text transform="translate(735.6,1479.5) scale(0.95,1.03)" text-anchor="middle" font-size="29.5">b</text>
<text transform="translate(805.9,1534.5) scale(0.95,1.03)" text-anchor="middle" font-size="29.5">b</text>
<text transform="translate(834.0,1537.1) scale(0.95,1.03)" text-anchor="middle" font-size="29.5">b</text>
<text transform="translate(862.1,1519.7) scale(0.95,1.03)" text-anchor="middle" font-size="29.5">b</text>
<text transform="translate(890.2,1495.7) scale(0.95,1.03)" text-anchor="middle" font-size="29.5">b</text>
<line x1="152.5" y1="1221.0" x2="152.5" y2="1599.6" stroke="#000" stroke-width="2.7"/>
<line x1="151.2" y1="1598.4" x2="925.7" y2="1598.4" stroke="#000" stroke-width="2.5"/>
<text transform="translate(127.3,1608.8) scale(0.985,1.07)" text-anchor="end" font-size="29.5">0</text>
<text transform="translate(127.3,1545.9) scale(0.985,1.07)" text-anchor="end" font-size="29.5">200</text>
<text transform="translate(127.3,1483.0) scale(0.985,1.07)" text-anchor="end" font-size="29.5">400</text>
<text transform="translate(127.3,1420.1) scale(0.985,1.07)" text-anchor="end" font-size="29.5">600</text>
<text transform="translate(127.3,1357.2) scale(0.985,1.07)" text-anchor="end" font-size="29.5">800</text>
<text transform="translate(127.3,1294.3) scale(0.985,1.07)" text-anchor="end" font-size="29.5">1000</text>
<text transform="translate(127.3,1231.4) scale(0.985,1.07)" text-anchor="end" font-size="29.5">1200</text>
<text transform="translate(229.7,1643.5) scale(0.985,1.07)" text-anchor="middle" font-size="29.5">0</text>
<text transform="translate(384.2,1643.5) scale(0.985,1.07)" text-anchor="middle" font-size="29.5">-0.3</text>
<text transform="translate(538.9,1643.5) scale(0.985,1.07)" text-anchor="middle" font-size="29.5">-0.6</text>
<text transform="translate(693.4,1643.5) scale(0.985,1.07)" text-anchor="middle" font-size="29.5">-0.9</text>
<text transform="translate(848.0,1643.5) scale(0.985,1.07)" text-anchor="middle" font-size="29.5">-1.2</text>
<text transform="translate(499.1,1700.3) scale(1,1.07)" text-anchor="middle" font-size="29.2">Osmotic Potential (MPa)</text>
<text transform="translate(35.9,1424.8) rotate(-90)" x="0" y="0" text-anchor="middle" font-size="29.5">Seed Vigour Index I</text>
<rect x="227.2" y="1235.7" width="17.7" height="17.1" fill="#5B9BD5" rx="1"/>
<rect x="230.0" y="1238.3" width="12.1" height="11.7" fill="#0070C0"/>
<text transform="translate(248.6,1255.6) scale(1,1.04)" text-anchor="start" font-size="29.5">15<tspan dy="2.3">˚</tspan><tspan dy="-2.3">C</tspan></text>
<rect x="403.0" y="1237.0" width="15.0" height="15.0" fill="#C00000"/>
<text transform="translate(424.0,1255.6) scale(1,1.04)" text-anchor="start" font-size="29.5">20<tspan dy="2.3">˚</tspan><tspan dy="-2.3">C</tspan></text>
<rect x="574.5" y="1237.0" width="15.0" height="15.0" fill="#000000"/>
<text transform="translate(595.5,1255.6) scale(1,1.04)" text-anchor="start" font-size="29.5">25<tspan dy="2.3">˚</tspan><tspan dy="-2.3">C</tspan></text>
<rect x="747.6" y="1237.0" width="15.0" height="15.0" fill="#00B050"/>
<text transform="translate(768.6,1255.6) scale(1,1.04)" text-anchor="start" font-size="29.5">30<tspan dy="2.3">˚</tspan><tspan dy="-2.3">C</tspan></text>
<text transform="translate(907.4,1249.3) scale(1,1)" x="0" y="0" text-anchor="middle" class="pl" font-size="51">c</text>
<!-- panel d -->
<rect x="176.2" y="2036.4" width="22.0" height="72.5" fill="#0070C0"/>
<rect x="204.1" y="1827.5" width="22.0" height="281.4" fill="#C00000"/>
<rect x="232.0" y="2081.0" width="22.0" height="27.9" fill="#000000"/>
<rect x="259.9" y="1844.5" width="22.0" height="264.4" fill="#00B050"/>
<rect x="329.2" y="2050.8" width="22.0" height="58.1" fill="#0070C0"/>
<rect x="357.1" y="1857.6" width="22.0" height="251.3" fill="#C00000"/>
<rect x="385.0" y="2091.4" width="22.0" height="17.5" fill="#000000"/>
<rect x="412.9" y="1911.7" width="22.0" height="197.2" fill="#00B050"/>
<rect x="482.2" y="2062.2" width="22.0" height="46.7" fill="#0070C0"/>
<rect x="510.1" y="1891.6" width="22.0" height="217.3" fill="#C00000"/>
<rect x="538.0" y="2094.7" width="22.0" height="14.2" fill="#000000"/>
<rect x="565.9" y="1947.3" width="22.0" height="161.6" fill="#00B050"/>
<rect x="635.2" y="2069.8" width="22.0" height="39.1" fill="#0070C0"/>
<rect x="663.1" y="1952.0" width="22.0" height="156.9" fill="#C00000"/>
<rect x="691.0" y="2096.9" width="22.0" height="12.0" fill="#000000"/>
<rect x="718.9" y="1988.7" width="22.0" height="120.2" fill="#00B050"/>
<rect x="788.2" y="2071.1" width="22.0" height="37.8" fill="#0070C0"/>
<rect x="816.1" y="1989.6" width="22.0" height="119.3" fill="#C00000"/>
<rect x="844.0" y="2099.0" width="22.0" height="9.9" fill="#000000"/>
<rect x="871.9" y="2058.5" width="22.0" height="50.4" fill="#00B050"/>
<line x1="187.2" y1="2034.2" x2="187.2" y2="2039.6" stroke="#595959" stroke-width="2.4"/>
<line x1="180.2" y1="2034.2" x2="194.2" y2="2034.2" stroke="#595959" stroke-width="2.6"/>
<line x1="180.2" y1="2039.6" x2="194.2" y2="2039.6" stroke="#595959" stroke-width="2.6"/>
<line x1="215.1" y1="1814.3" x2="215.1" y2="1840.7" stroke="#595959" stroke-width="2.4"/>
<line x1="208.1" y1="1814.3" x2="222.1" y2="1814.3" stroke="#595959" stroke-width="2.6"/>
<line x1="208.1" y1="1840.7" x2="222.1" y2="1840.7" stroke="#595959" stroke-width="2.6"/>
<line x1="243.0" y1="2079.9" x2="243.0" y2="2081.5" stroke="#595959" stroke-width="2.4"/>
<line x1="236.0" y1="2079.9" x2="250.0" y2="2079.9" stroke="#595959" stroke-width="2.6"/>
<line x1="236.0" y1="2081.5" x2="250.0" y2="2081.5" stroke="#595959" stroke-width="2.6"/>
<line x1="270.9" y1="1832.2" x2="270.9" y2="1857.3" stroke="#595959" stroke-width="2.4"/>
<line x1="263.9" y1="1832.2" x2="277.9" y2="1832.2" stroke="#595959" stroke-width="2.6"/>
<line x1="263.9" y1="1857.3" x2="277.9" y2="1857.3" stroke="#595959" stroke-width="2.6"/>
<line x1="340.2" y1="2049.0" x2="340.2" y2="2053.1" stroke="#595959" stroke-width="2.4"/>
<line x1="333.2" y1="2049.0" x2="347.2" y2="2049.0" stroke="#595959" stroke-width="2.6"/>
<line x1="333.2" y1="2053.1" x2="347.2" y2="2053.1" stroke="#595959" stroke-width="2.6"/>
<line x1="368.1" y1="1846.2" x2="368.1" y2="1869.5" stroke="#595959" stroke-width="2.4"/>
<line x1="361.1" y1="1846.2" x2="375.1" y2="1846.2" stroke="#595959" stroke-width="2.6"/>
<line x1="361.1" y1="1869.5" x2="375.1" y2="1869.5" stroke="#595959" stroke-width="2.6"/>
<line x1="396.0" y1="2091.2" x2="396.0" y2="2091.9" stroke="#595959" stroke-width="2.4"/>
<line x1="389.0" y1="2091.2" x2="403.0" y2="2091.2" stroke="#595959" stroke-width="2.6"/>
<line x1="389.0" y1="2091.9" x2="403.0" y2="2091.9" stroke="#595959" stroke-width="2.6"/>
<line x1="423.9" y1="1903.3" x2="423.9" y2="1921.0" stroke="#595959" stroke-width="2.4"/>
<line x1="416.9" y1="1903.3" x2="430.9" y2="1903.3" stroke="#595959" stroke-width="2.6"/>
<line x1="416.9" y1="1921.0" x2="430.9" y2="1921.0" stroke="#595959" stroke-width="2.6"/>
<line x1="493.2" y1="2060.3" x2="493.2" y2="2064.0" stroke="#595959" stroke-width="2.4"/>
<line x1="486.2" y1="2060.3" x2="500.2" y2="2060.3" stroke="#595959" stroke-width="2.6"/>
<line x1="486.2" y1="2064.0" x2="500.2" y2="2064.0" stroke="#595959" stroke-width="2.6"/>
<line x1="521.1" y1="1881.1" x2="521.1" y2="1901.3" stroke="#595959" stroke-width="2.4"/>
<line x1="514.1" y1="1881.1" x2="528.1" y2="1881.1" stroke="#595959" stroke-width="2.6"/>
<line x1="514.1" y1="1901.3" x2="528.1" y2="1901.3" stroke="#595959" stroke-width="2.6"/>
<line x1="549.0" y1="2094.2" x2="549.0" y2="2094.8" stroke="#595959" stroke-width="2.4"/>
<line x1="542.0" y1="2094.2" x2="556.0" y2="2094.2" stroke="#595959" stroke-width="2.6"/>
<line x1="542.0" y1="2094.8" x2="556.0" y2="2094.8" stroke="#595959" stroke-width="2.6"/>
<line x1="576.9" y1="1939.8" x2="576.9" y2="1954.4" stroke="#595959" stroke-width="2.4"/>
<line x1="569.9" y1="1939.8" x2="583.9" y2="1939.8" stroke="#595959" stroke-width="2.6"/>
<line x1="569.9" y1="1954.4" x2="583.9" y2="1954.4" stroke="#595959" stroke-width="2.6"/>
<line x1="646.2" y1="2068.8" x2="646.2" y2="2070.8" stroke="#595959" stroke-width="2.4"/>
<line x1="639.2" y1="2068.8" x2="653.2" y2="2068.8" stroke="#595959" stroke-width="2.6"/>
<line x1="639.2" y1="2070.8" x2="653.2" y2="2070.8" stroke="#595959" stroke-width="2.6"/>
<line x1="674.1" y1="1945.4" x2="674.1" y2="1959.2" stroke="#595959" stroke-width="2.4"/>
<line x1="667.1" y1="1945.4" x2="681.1" y2="1945.4" stroke="#595959" stroke-width="2.6"/>
<line x1="667.1" y1="1959.2" x2="681.1" y2="1959.2" stroke="#595959" stroke-width="2.6"/>
<line x1="702.0" y1="2096.2" x2="702.0" y2="2096.8" stroke="#595959" stroke-width="2.4"/>
<line x1="695.0" y1="2096.2" x2="709.0" y2="2096.2" stroke="#595959" stroke-width="2.6"/>
<line x1="695.0" y1="2096.8" x2="709.0" y2="2096.8" stroke="#595959" stroke-width="2.6"/>
<line x1="729.9" y1="1983.8" x2="729.9" y2="1994.0" stroke="#595959" stroke-width="2.4"/>
<line x1="722.9" y1="1983.8" x2="736.9" y2="1983.8" stroke="#595959" stroke-width="2.6"/>
<line x1="722.9" y1="1994.0" x2="736.9" y2="1994.0" stroke="#595959" stroke-width="2.6"/>
<line x1="799.2" y1="2070.2" x2="799.2" y2="2072.1" stroke="#595959" stroke-width="2.4"/>
<line x1="792.2" y1="2070.2" x2="806.2" y2="2070.2" stroke="#595959" stroke-width="2.6"/>
<line x1="792.2" y1="2072.1" x2="806.2" y2="2072.1" stroke="#595959" stroke-width="2.6"/>
<line x1="827.1" y1="1985.1" x2="827.1" y2="1994.9" stroke="#595959" stroke-width="2.4"/>
<line x1="820.1" y1="1985.1" x2="834.1" y2="1985.1" stroke="#595959" stroke-width="2.6"/>
<line x1="820.1" y1="1994.9" x2="834.1" y2="1994.9" stroke="#595959" stroke-width="2.6"/>
<line x1="855.0" y1="2099.2" x2="855.0" y2="2099.8" stroke="#595959" stroke-width="2.4"/>
<line x1="848.0" y1="2099.2" x2="862.0" y2="2099.2" stroke="#595959" stroke-width="2.6"/>
<line x1="848.0" y1="2099.8" x2="862.0" y2="2099.8" stroke="#595959" stroke-width="2.6"/>
<line x1="882.9" y1="2056.6" x2="882.9" y2="2060.3" stroke="#595959" stroke-width="2.4"/>
<line x1="875.9" y1="2056.6" x2="889.9" y2="2056.6" stroke="#595959" stroke-width="2.6"/>
<line x1="875.9" y1="2060.3" x2="889.9" y2="2060.3" stroke="#595959" stroke-width="2.6"/>
<text transform="translate(187.2,2016.0) scale(0.95,1.03)" text-anchor="middle" font-size="29.5">a</text>
<text transform="translate(215.1,1807.0) scale(0.95,1.03)" text-anchor="middle" font-size="29.5">a</text>
<text transform="translate(243.0,2060.4) scale(0.95,1.03)" text-anchor="middle" font-size="29.5">a</text>
<text transform="translate(270.9,1824.5) scale(0.95,1.03)" text-anchor="middle" font-size="29.5">a</text>
<text transform="translate(340.2,2030.3) scale(0.95,1.03)" text-anchor="middle" font-size="29.5">a</text>
<text transform="translate(368.1,1837.1) scale(0.95,1.03)" text-anchor="middle" font-size="29.5">a</text>
<text transform="translate(396.0,2071.3) scale(0.95,1.03)" text-anchor="middle" font-size="29.5">a</text>
<text transform="translate(423.9,1892.1) scale(0.95,1.03)" text-anchor="middle" font-size="29.5">a</text>
<text transform="translate(493.2,2040.8) scale(0.95,1.03)" text-anchor="middle" font-size="29.5">a</text>
<text transform="translate(521.1,1870.7) scale(0.95,1.03)" text-anchor="middle" font-size="29.5">a</text>
<text transform="translate(549.0,2073.8) scale(0.95,1.03)" text-anchor="middle" font-size="29.5">a</text>
<text transform="translate(576.9,1926.8) scale(0.95,1.03)" text-anchor="middle" font-size="29.5">a</text>
<text transform="translate(646.2,2049.8) scale(0.95,1.03)" text-anchor="middle" font-size="29.5">a</text>
<text transform="translate(674.1,1932.0) scale(0.95,1.03)" text-anchor="middle" font-size="29.5">b</text>
<text transform="translate(702.0,2076.8) scale(0.95,1.03)" text-anchor="middle" font-size="29.5">a</text>
<text transform="translate(729.9,1968.6) scale(0.95,1.03)" text-anchor="middle" font-size="29.5">b</text>
<text transform="translate(799.2,2051.0) scale(0.95,1.03)" text-anchor="middle" font-size="29.5">a</text>
<text transform="translate(827.1,1969.1) scale(0.95,1.03)" text-anchor="middle" font-size="29.5">b</text>
<text transform="translate(855.0,2079.4) scale(0.95,1.03)" text-anchor="middle" font-size="29.5">a</text>
<text transform="translate(882.9,2038.0) scale(0.95,1.03)" text-anchor="middle" font-size="29.5">c</text>
<line x1="152.5" y1="1792.5" x2="152.5" y2="2110.1" stroke="#000" stroke-width="2.6"/>
<line x1="151.2" y1="2108.9" x2="917.0" y2="2108.9" stroke="#000" stroke-width="2.5"/>
<text transform="translate(127.8,2119.3) scale(0.985,1.07)" text-anchor="end" font-size="29.5">0</text>
<text transform="translate(127.8,2079.8) scale(0.985,1.07)" text-anchor="end" font-size="29.5">500</text>
<text transform="translate(127.8,2040.2) scale(0.985,1.07)" text-anchor="end" font-size="29.5">1000</text>
<text transform="translate(127.8,2000.7) scale(0.985,1.07)" text-anchor="end" font-size="29.5">1500</text>
<text transform="translate(127.8,1961.1) scale(0.985,1.07)" text-anchor="end" font-size="29.5">2000</text>
<text transform="translate(127.8,1921.6) scale(0.985,1.07)" text-anchor="end" font-size="29.5">2500</text>
<text transform="translate(127.8,1882.0) scale(0.985,1.07)" text-anchor="end" font-size="29.5">3000</text>
<text transform="translate(127.8,1842.5) scale(0.985,1.07)" text-anchor="end" font-size="29.5">3500</text>
<text transform="translate(127.8,1802.9) scale(0.985,1.07)" text-anchor="end" font-size="29.5">4000</text>
<text transform="translate(229.0,2153.8) scale(0.985,1.07)" text-anchor="middle" font-size="29.5">0</text>
<text transform="translate(382.0,2153.8) scale(0.985,1.07)" text-anchor="middle" font-size="29.5">-0.3</text>
<text transform="translate(535.0,2153.8) scale(0.985,1.07)" text-anchor="middle" font-size="29.5">-0.6</text>
<text transform="translate(688.1,2153.8) scale(0.985,1.07)" text-anchor="middle" font-size="29.5">-0.9</text>
<text transform="translate(841.1,2153.8) scale(0.985,1.07)" text-anchor="middle" font-size="29.5">-1.2</text>
<text transform="translate(499.1,2205.4) scale(1,1.07)" text-anchor="middle" font-size="29.2">Osmotic Potential (MPa)</text>
<text transform="translate(25.6,1942.7) rotate(-90)" x="0" y="0" text-anchor="middle" font-size="29.5">Seed Vigour Index II</text>
<rect x="243.5" y="1733.5" width="15.0" height="15.0" fill="#0070C0"/>
<text transform="translate(267.3,1751.8) scale(1,1.04)" text-anchor="start" font-size="29.5">15<tspan dy="2.3">˚</tspan><tspan dy="-2.3">C</tspan></text>
<rect x="398.5" y="1733.5" width="15.0" height="15.0" fill="#C00000"/>
<text transform="translate(422.3,1751.8) scale(1,1.04)" text-anchor="start" font-size="29.5">20<tspan dy="2.3">˚</tspan><tspan dy="-2.3">C</tspan></text>
<rect x="554.0" y="1733.5" width="15.0" height="15.0" fill="#000000"/>
<text transform="translate(577.8,1751.8) scale(1,1.04)" text-anchor="start" font-size="29.5">25<tspan dy="2.3">˚</tspan><tspan dy="-2.3">C</tspan></text>
<rect x="709.7" y="1733.5" width="15.0" height="15.0" fill="#00B050"/>
<text transform="translate(733.5,1751.8) scale(1,1.04)" text-anchor="start" font-size="29.5">30<tspan dy="2.3">˚</tspan><tspan dy="-2.3">C</tspan></text>
<text transform="translate(902.9,1751.3) scale(1,1)" x="0" y="0" text-anchor="middle" class="pl" font-size="51">d</text>
</svg>
</body></html>
